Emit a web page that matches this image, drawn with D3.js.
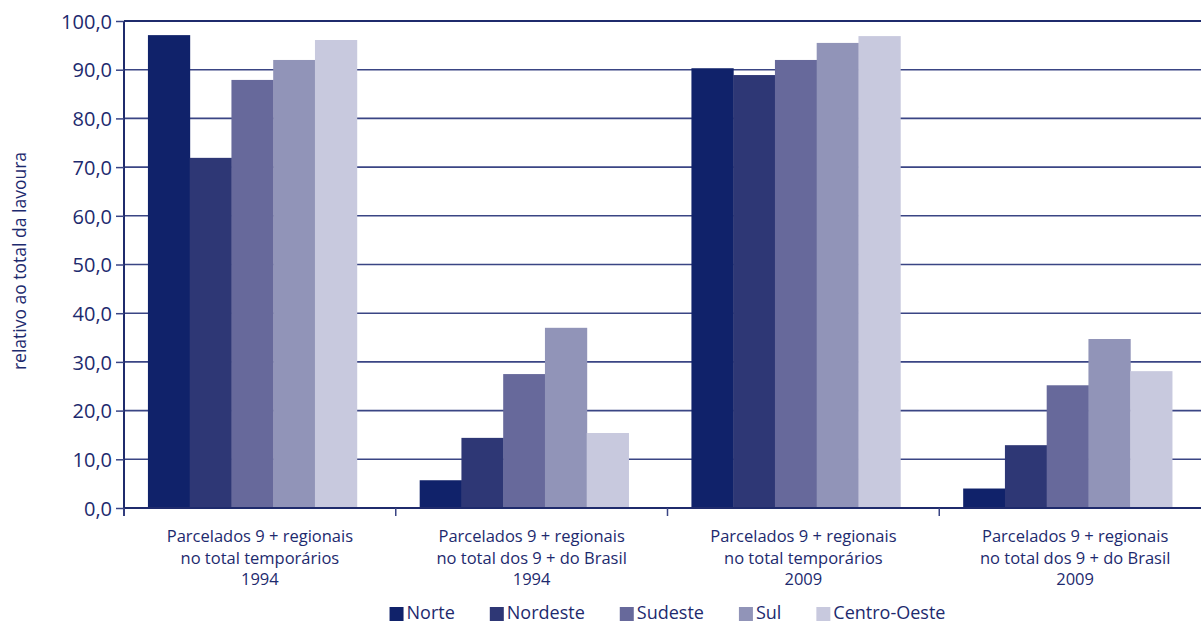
<!DOCTYPE html>
<html>
<head>
<meta charset="utf-8">
<script src="https://cdn.jsdelivr.net/npm/d3@7"></script>
<style>
  body { margin: 0; background: #fff; }
  text { font-family: "Open Sans", sans-serif; fill: #1d2a6e; }
</style>
</head>
<body>
<div id="chart"></div>
<script>
var width = 1201,
    height = 625

var categories = [
  ["Parcelados 9 + regionais", "no total temporários", "1994"],
  ["Parcelados 9 + regionais", "no total dos 9 + do Brasil", "1994"],
  ["Parcelados 9 + regionais", "no total temporários", "2009"],
  ["Parcelados 9 + regionais", "no total dos 9 + do Brasil", "2009"]
];
var regions = ["Norte", "Nordeste", "Sudeste", "Sul", "Centro-Oeste"];
var colors = ["#10226a", "#2e3775", "#67699b", "#9194b8", "#c8c9de"];

// one array per region, values in category order
var norte      = [97.1, 5.7, 90.3, 4.0];
var nordeste   = [71.9, 14.4, 88.9, 12.9];
var sudeste    = [87.9, 27.5, 92.0, 25.2];
var sul        = [92.0, 37.0, 95.5, 34.7];
var centroOeste = [96.1, 15.4, 96.9, 28.1];
var series = [norte, nordeste, sudeste, sul, centroOeste];

var yTicks = [0, 10, 20, 30, 40, 50, 60, 70, 80, 90, 100];

var svg = d3.select("#chart").append("svg")
    .attr("width", width)
    .attr("height", height);

var x0 = d3.scaleBand()
    .domain(d3.range(categories.length))
    .range([124, 1211])
    .padding(0);

var x1 = d3.scaleBand()
    .domain(regions)
    .range([0, x0.bandwidth()])
    .paddingInner(0)
    .paddingOuter(0.754)
    .align(0.38);

var y = d3.scaleLinear()
    .domain([0, 100])
    .range([508, 21]);

// grid lines
svg.append("g")
  .selectAll("line")
  .data(yTicks.filter(d => d > 0))
  .enter().append("line")
    .attr("x1", 124).attr("x2", width)
    .attr("y1", d => y(d)).attr("y2", d => y(d))
    .attr("stroke", d => d == 100 ? "#1f2b6c" : "#3a4584")
    .attr("stroke-width", d => d == 100 ? 2 : 1.6);

// bars
var groups = svg.append("g")
  .selectAll("g")
  .data(categories)
  .enter().append("g")
    .attr("transform", (d, i) => "translate(" + x0(i) + ",0)");

groups.selectAll("rect")
  .data((d, i) => regions.map((r, k) => ({region: r, k: k, value: series[k][i]})))
  .enter().append("rect")
    .attr("x", d => x1(d.region))
    .attr("width", x1.bandwidth() + 0.5)
    .attr("y", d => y(d.value))
    .attr("height", d => y(0) - y(d.value))
    .attr("fill", d => colors[d.k]);

// y axis
var yAxis = svg.append("g")
    .attr("transform", "translate(124,0)")
    .call(d3.axisLeft(y).tickValues(yTicks).tickSize(8).tickPadding(4)
      .tickFormat(d => d3.format(".1f")(d).replace(".", ",")));
yAxis.select(".domain").attr("stroke", "#1f2b6c").attr("stroke-width", 2)
    .attr("d", "M0," + (y(0) + 8) + "V" + y(100));
yAxis.selectAll(".tick line").attr("stroke", "#3a4584").attr("stroke-width", 1.5);
yAxis.selectAll(".tick text")
    .style("font-size", "20px")
    .attr("fill", "#1d2a6e")
    .attr("dy", "0.36em");

// x axis baseline and ticks
svg.append("line")
    .attr("x1", 124).attr("x2", width)
    .attr("y1", y(0)).attr("y2", y(0))
    .attr("stroke", "#1f2b6c").attr("stroke-width", 2);

svg.append("g")
  .selectAll("line")
  .data(d3.range(categories.length))
  .enter().append("line")
    .attr("x1", d => x0(d)).attr("x2", d => x0(d))
    .attr("y1", y(0)).attr("y2", y(0) + 8)
    .attr("stroke", "#3a4584").attr("stroke-width", 1.5);

// category labels
var labels = svg.append("g")
  .selectAll("text")
  .data(categories)
  .enter().append("text")
    .attr("text-anchor", "middle")
    .attr("transform", (d, i) => "translate(" + (x0(i) + x0.bandwidth() / 2) + ",542)")
    .style("font-size", "16.5px");

labels.selectAll("tspan")
  .data(d => d)
  .enter().append("tspan")
    .attr("x", 0)
    .attr("y", (d, i) => i * 21.5)
    .text(d => d);

// y title
svg.append("text")
    .attr("transform", "translate(26,261) rotate(-90)")
    .attr("text-anchor", "middle")
    .style("font-size", "17.5px")
    .text("relativo ao total da lavoura");

// legend
var legend = svg.append("g").attr("transform", "translate(0,613)");
var items = legend.selectAll("g")
  .data(regions)
  .enter().append("g");

items.append("rect")
    .attr("width", 14).attr("height", 14)
    .attr("y", -6)
    .attr("fill", (d, i) => colors[i]);

items.append("text")
    .attr("x", 17)
    .attr("dy", "0.36em")
    .style("font-size", "18px")
    .text(d => d);

var xpos = 0, gap = 35, pos = [];
items.each(function() {
  var w = 17 + this.querySelector("text").getComputedTextLength();
  pos.push(xpos);
  xpos += w + gap;
});
var total = xpos - gap;
var start = (124 + 1211) / 2 - total / 2;
items.attr("transform", (d, i) => "translate(" + (start + pos[i]) + ",0)");
</script>
</body>
</html>
